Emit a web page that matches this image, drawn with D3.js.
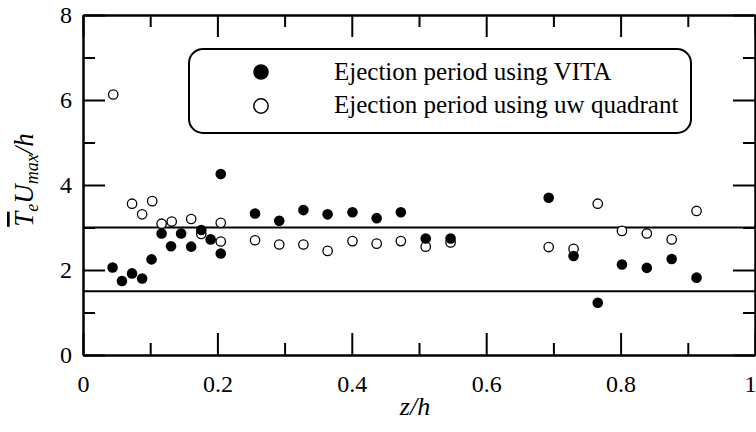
<!DOCTYPE html>
<html><head><meta charset="utf-8">
<script src="https://cdn.jsdelivr.net/npm/d3@7/dist/d3.min.js"></script>
<style>
body{margin:0;background:#fff;}
</style></head>
<body><svg id="c" width="756" height="432"></svg>
<script>
const vitaX = [0.044,0.058,0.073,0.088,0.102,0.117,0.131,0.146,0.161,0.176,0.190,0.205,0.205,0.256,0.292,0.328,0.364,0.401,0.437,0.473,0.510,0.547,0.693,0.730,0.766,0.802,0.839,0.876,0.913];
const vitaY = [2.06,1.74,1.92,1.80,2.25,2.86,2.56,2.86,2.55,2.94,2.72,2.39,4.26,3.33,3.16,3.41,3.31,3.36,3.22,3.36,2.74,2.74,3.70,2.33,1.23,2.13,2.05,2.26,1.82];
const uwX = [0.045,0.073,0.088,0.103,0.117,0.132,0.161,0.176,0.205,0.205,0.256,0.292,0.328,0.364,0.401,0.437,0.473,0.510,0.547,0.693,0.730,0.766,0.802,0.839,0.876,0.913];
const uwY = [6.13,3.56,3.31,3.62,3.09,3.14,3.20,2.85,3.11,2.67,2.70,2.60,2.60,2.45,2.68,2.62,2.68,2.55,2.65,2.54,2.50,3.56,2.92,2.86,2.72,3.39];
const refLines = [3, 1.5];
const xMajor = [0,0.2,0.4,0.6,0.8,1];
const xMajorLabels = ["0","0.2","0.4","0.6","0.8","1"];
const xMinor = [0.1,0.3,0.5,0.7,0.9];
const yMajor = [0,2,4,6,8];
const yMinor = [1,3,5,7];
const legendLabels = ["Ejection period using VITA","Ejection period using uw quadrant"];

const FONT = "'Liberation Serif', 'Times New Roman', serif";
const svg = d3.select("#c");
const L=83,R=755,T=15,B=355;
const x = d3.scaleLinear().domain([0,1]).range([L,R]);
const y = d3.scaleLinear().domain([0,8]).range([B,T]);

function ax(gen, tr, vals, size, fmt){
  const g = svg.append("g").attr("transform",tr).call(gen.tickValues(vals).tickSize(size).tickSizeOuter(0).tickFormat(fmt||""));
  g.attr("font-family", FONT);
  g.select(".domain").attr("stroke","#000").attr("stroke-width",2);
  g.selectAll(".tick line").attr("stroke","#000").attr("stroke-width",2);
  return g;
}
const gb = ax(d3.axisBottom(x), `translate(0,${B})`, xMajor, -22, (d,i)=>xMajorLabels[i]);
gb.selectAll(".tick text").attr("font-size",24).attr("y",0).attr("dy",null).attr("transform","translate(0,37)").style("font-family",FONT)
  .attr("text-anchor",(d,i)=>i===xMajor.length-1?"end":"middle").attr("x",(d,i)=>i===xMajor.length-1?1:0);
ax(d3.axisBottom(x), `translate(0,${B})`, xMinor, -12);
ax(d3.axisTop(x), `translate(0,${T})`, xMajor, -22);
ax(d3.axisTop(x), `translate(0,${T})`, xMinor, -12);
const gl = ax(d3.axisLeft(y), `translate(${L},0)`, yMajor, -22, d=>d);
gl.selectAll(".tick text").attr("font-size",24).attr("x",-11).attr("dy","0.33em").style("font-family",FONT);
ax(d3.axisLeft(y), `translate(${L},0)`, yMinor, -12);
ax(d3.axisRight(y), `translate(${R},0)`, yMajor, -22);
ax(d3.axisRight(y), `translate(${R},0)`, yMinor, -12);

svg.selectAll("line.ref").data(refLines).enter().append("line")
  .attr("x1",L).attr("x2",R).attr("y1",d=>y(d)).attr("y2",d=>y(d))
  .attr("stroke","#000").attr("stroke-width",2);

svg.selectAll("circle.uw").data(uwX).enter().append("circle")
  .attr("cx",d=>x(d)).attr("cy",(d,i)=>y(uwY[i])).attr("r",4.7)
  .attr("fill","#fff").attr("stroke","#000").attr("stroke-width",1.3);
svg.selectAll("circle.vita").data(vitaX).enter().append("circle")
  .attr("cx",d=>x(d)).attr("cy",(d,i)=>y(vitaY[i])).attr("r",5.3)
  .attr("fill","#000");

const lg = svg.append("g");
lg.append("rect").attr("x",189).attr("y",49).attr("width",502).attr("height",84).attr("rx",14)
  .attr("fill","#fff").attr("stroke","#000").attr("stroke-width",2);
lg.append("circle").attr("cx",261).attr("cy",72).attr("r",7.8).attr("fill","#000");
lg.append("circle").attr("cx",261).attr("cy",106).attr("r",7.2).attr("fill","#fff").attr("stroke","#000").attr("stroke-width",1.5);
lg.selectAll("text").data(legendLabels).enter().append("text")
  .attr("x",334).attr("y",(d,i)=>80+i*33).attr("font-size",25).style("font-family",FONT).text(d=>d);

svg.append("text").attr("x",415).attr("y",415).attr("text-anchor","middle").attr("font-size",26)
  .attr("font-style","italic").style("font-family",FONT).text("z/h");

const yt = svg.append("text").attr("transform","translate(33,180) rotate(-90)").attr("text-anchor","middle")
  .attr("font-size",27).attr("font-style","italic").style("font-family",FONT);
yt.append("tspan").text("T").style("text-decoration","overline");
yt.append("tspan").text("e").attr("font-size",18).attr("dy",5);
yt.append("tspan").text("U").attr("dy",-5);
yt.append("tspan").text("max").attr("font-size",18).attr("dy",5);
yt.append("tspan").text("/h").attr("dy",-5);
</script></body></html>
